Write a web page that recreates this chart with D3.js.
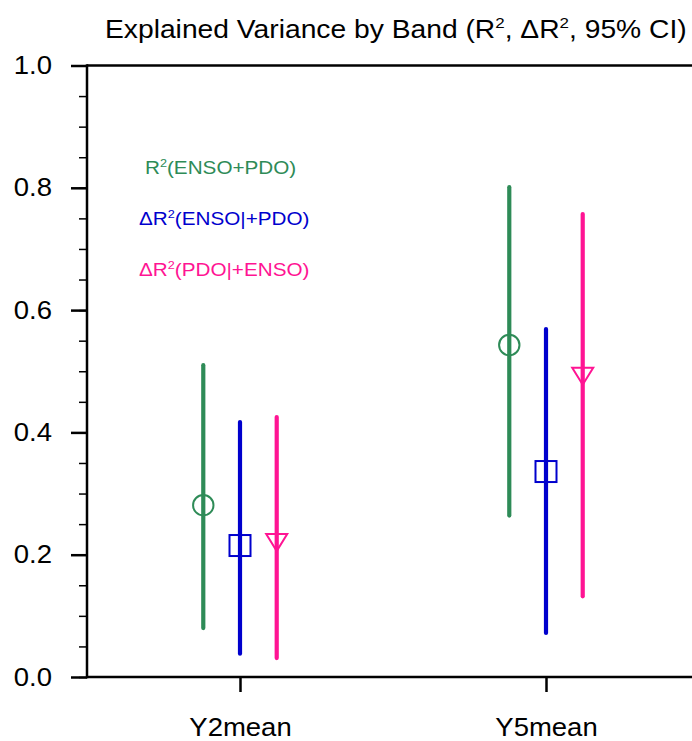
<!DOCTYPE html>
<html>
<head>
<meta charset="utf-8">
<script src="https://cdn.jsdelivr.net/npm/d3@7"></script>
<style>
  body { margin: 0; background: #fff; overflow: hidden; }
  svg { display: block; font-family: 'Liberation Sans', Arial, Helvetica, sans-serif; }
</style>
</head>
<body>
<div class="chart"></div>
<script>
// values
const bands = ['Y2mean', 'Y5mean']
const yTicks = [0, 0.2, 0.4, 0.6, 0.8, 1.0]

const r2Est = [0.281, 0.543]
const r2Lo = [0.080, 0.264]
const r2Hi = [0.510, 0.801]

const dEnsoEst = [0.215, 0.336]
const dEnsoLo = [0.038, 0.072]
const dEnsoHi = [0.417, 0.569]

const dPdoEst = [0.224, 0.496]
const dPdoLo = [0.031, 0.132]
const dPdoHi = [0.425, 0.757]

;(function init() {
  const width = 692
  const height = 741
  const left = 87
  const right = 699
  const top = 65.5
  const bottom = 677
  const font = "'Liberation Sans', Arial, sans-serif"

  // the original text is a bit wider than Liberation Sans
  function stretch(sel, k) {
    sel.each(function () {
      const t = d3.select(this)
      const x = +t.attr('x') || 0
      const y = +t.attr('y') || 0
      t.attr('x', 0)
        .attr('y', 0)
        .attr('transform', `translate(${x},${y}) scale(${k},1)`)
    })
  }

  const series = [
    { name: 'R', pre: '', post: '(ENSO+PDO)', color: '#2E8B57', marker: 'circle', est: r2Est, lo: r2Lo, hi: r2Hi, off: -0.12, lx: 145, ly: 168 },
    { name: 'R', pre: '\u0394', post: '(ENSO|+PDO)', color: '#0000CD', marker: 'square', est: dEnsoEst, lo: dEnsoLo, hi: dEnsoHi, off: 0, lx: 139, ly: 219 },
    { name: 'R', pre: '\u0394', post: '(PDO|+ENSO)', color: '#FF1493', marker: 'triangle', est: dPdoEst, lo: dPdoLo, hi: dPdoHi, off: 0.12, lx: 139, ly: 270 }
  ]

  const xScale = d3.scaleLinear().domain([0.5, 2.5]).range([left, right])
  const yScale = d3.scaleLinear().domain([0, 1]).range([bottom, top])

  const svg = d3
    .select('.chart')
    .append('svg')
    .attr('width', width)
    .attr('height', height)

  // frame: top, left and bottom edges; the right edge is off the canvas
  const frame = svg.append('g').attr('stroke', '#000').attr('stroke-width', 2.5)
  frame.append('line').attr('x1', left).attr('x2', width).attr('y1', top).attr('y2', top)
  frame.append('line').attr('x1', left).attr('x2', width).attr('y1', bottom).attr('y2', bottom)
  frame.append('line').attr('x1', left).attr('x2', left).attr('y1', top - 1.25).attr('y2', bottom + 1.25)

  // minor y ticks
  const minorAxis = svg
    .append('g')
    .attr('transform', 'translate(' + left + ',0)')
    .call(
      d3
        .axisLeft(yScale)
        .tickValues(d3.range(0, 21).map((i) => i * 0.05))
        .tickSize(8)
        .tickFormat('')
    )
  minorAxis.select('.domain').remove()
  minorAxis.selectAll('line').attr('stroke-width', 1.5)

  // major y ticks
  const yAxis = svg
    .append('g')
    .attr('transform', 'translate(' + left + ',0)')
    .call(
      d3
        .axisLeft(yScale)
        .tickValues(yTicks)
        .tickSize(16)
        .tickPadding(19)
        .tickFormat(d3.format('.1f'))
    )
  yAxis.select('.domain').remove()
  yAxis.selectAll('line').attr('stroke-width', 2.5)
  yAxis
    .selectAll('text')
    .attr('fill', '#000')
    .style('font-size', '25px')
    .style('font-family', font)
    .call(stretch, 1.1)

  // x axis
  const xAxis = svg
    .append('g')
    .attr('transform', 'translate(0,' + bottom + ')')
    .call(
      d3
        .axisBottom(xScale)
        .tickValues([1, 2])
        .tickSize(15)
        .tickPadding(26)
        .tickFormat((d) => bands[d - 1])
    )
  xAxis.select('.domain').remove()
  xAxis.selectAll('line').attr('stroke-width', 2.5)
  xAxis
    .selectAll('text')
    .attr('fill', '#000')
    .style('font-size', '25px')
    .style('font-family', font)
    .call(stretch, 1.1)

  // title
  const title = svg
    .append('text')
    .attr('x', 105)
    .attr('y', 38)
    .style('font-size', '25px')
    .attr('fill', '#000')
  title.append('tspan').text('Explained Variance by Band (R')
  title.append('tspan').attr('dy', -10).style('font-size', '15px').text('2')
  title.append('tspan').attr('dy', 10).text(', \u0394R')
  title.append('tspan').attr('dy', -10).style('font-size', '15px').text('2')
  title.append('tspan').attr('dy', 10).text(', 95% CI)')
  title.call(stretch, 1.13)

  // error bars and markers
  for (const s of series) {
    const g = svg.append('g')
    bands.forEach((b, i) => {
      const cx = xScale(i + 1 + s.off)
      g.append('line')
        .attr('x1', cx)
        .attr('x2', cx)
        .attr('y1', yScale(s.lo[i]))
        .attr('y2', yScale(s.hi[i]))
        .attr('stroke', s.color)
        .attr('stroke-width', 4.2)
        .attr('stroke-linecap', 'round')

      const cy = yScale(s.est[i])
      if (s.marker == 'circle') {
        g.append('circle')
          .attr('cx', cx)
          .attr('cy', cy)
          .attr('r', 10.2)
          .attr('fill', 'none')
          .attr('stroke', s.color)
          .attr('stroke-width', 2)
      } else if (s.marker == 'square') {
        g.append('rect')
          .attr('x', cx - 10.5)
          .attr('y', cy - 10.5)
          .attr('width', 21)
          .attr('height', 21)
          .attr('fill', 'none')
          .attr('stroke', s.color)
          .attr('stroke-width', 2)
      } else {
        g.append('path')
          .attr('d', `M${cx - 10.5},${cy - 6}L${cx + 10.5},${cy - 6}L${cx},${cy + 11}Z`)
          .attr('fill', 'none')
          .attr('stroke', s.color)
          .attr('stroke-width', 2)
      }
    })

    // legend entry
    const t = svg
      .append('text')
      .attr('x', s.lx)
      .attr('y', s.ly + 6)
      .attr('fill', s.color)
      .style('font-size', '18px')
    t.append('tspan').text(s.pre + s.name)
    t.append('tspan').attr('dy', -7).style('font-size', '11px').text('2')
    t.append('tspan').attr('dy', 7).text(s.post)
    t.call(stretch, 1.15)
  }
})()
</script>
</body>
</html>
